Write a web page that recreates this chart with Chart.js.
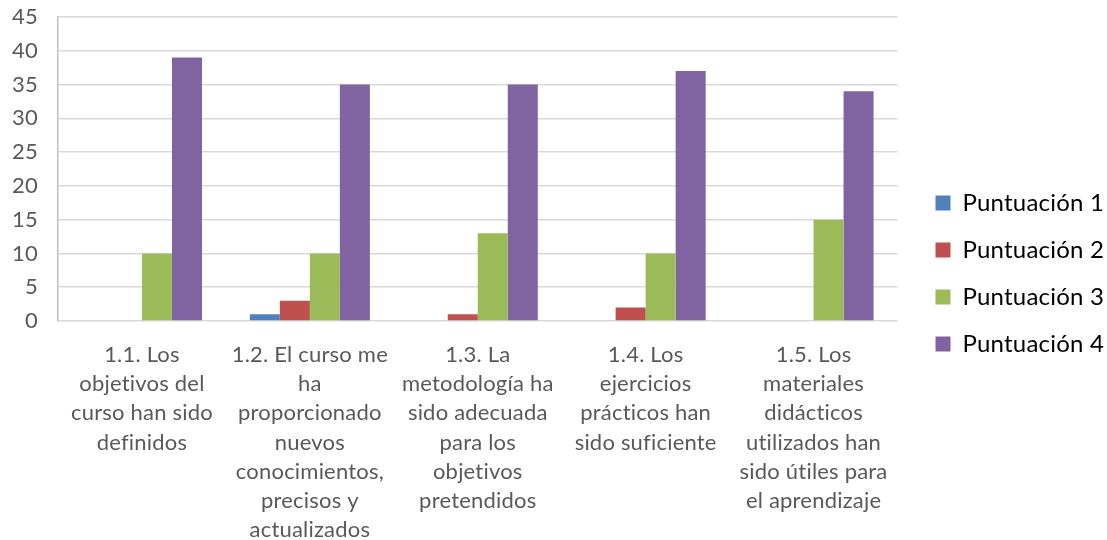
<!DOCTYPE html>
<html>
<head>
<meta charset="utf-8">
<script src="https://cdn.jsdelivr.net/npm/chart.js@4"></script>
<style>
  html, body { margin: 0; padding: 0; background: #fff; }
  #wrap { width: 1107px; height: 540px; }
</style>
</head>
<body>
<div id="wrap"><canvas id="grafico"></canvas></div>
<script>
const categorias = [
  ['1.1. Los', 'objetivos del', 'curso han sido', 'definidos'],
  ['1.2. El curso me', 'ha', 'proporcionado', 'nuevos', 'conocimientos,', 'precisos y', 'actualizados'],
  ['1.3. La', 'metodología ha', 'sido adecuada', 'para los', 'objetivos', 'pretendidos'],
  ['1.4. Los', 'ejercicios', 'prácticos han', 'sido suficiente'],
  ['1.5. Los', 'materiales', 'didácticos', 'utilizados han', 'sido útiles para', 'el aprendizaje']
];
const series = ['Puntuación 1', 'Puntuación 2', 'Puntuación 3', 'Puntuación 4'];
const punt1 = [0, 1, 0, 0, 0];
const punt2 = [0, 3, 1, 2, 0];
const punt3 = [10, 10, 13, 10, 15];
const punt4 = [39, 35, 35, 37, 34];
const colores = ['#4F81BD', '#C0504D', '#9BBB59', '#8064A2'];

// sin ligaduras (ti, fi) en Lato
const sinLigaduras = {
  id: 'sinLigaduras',
  beforeUpdate(chart) { chart.ctx.letterSpacing = '0.2px'; },
  beforeDraw(chart) { chart.ctx.letterSpacing = '0.2px'; }
};

// la leyenda va centrada en la altura total, no en el area del grafico
const moverLeyenda = {
  id: 'moverLeyenda',
  afterLayout(chart) {
    const l = chart.legend;
    const dy = 273.5 - (l.top + l.bottom) / 2;
    l.top += dy; l.bottom += dy;
    l.left += 15; l.right += 15;
  }
};

const ctx = document.getElementById('grafico');
new Chart(ctx, {
  type: 'bar',
  data: {
    labels: categorias,
    datasets: [punt1, punt2, punt3, punt4].map((d, i) => ({
      label: series[i],
      data: d,
      backgroundColor: colores[i],
      borderWidth: 0,
      categoryPercentage: 0.715,
      barPercentage: 1
    }))
  },
  options: {
    responsive: true,
    maintainAspectRatio: false,
    animation: false,
    layout: { padding: { left: 8, right: 8, top: 0, bottom: 0 } },
    plugins: {
      tooltip: { enabled: false },
      legend: {
        position: 'right',
        labels: {
          font: { family: 'Lato', size: 24 },
          color: '#000',
          boxWidth: 15,
          boxHeight: 15,
          padding: 23
        }
      }
    },
    scales: {
      x: {
        grid: { display: false, drawTicks: false },
        border: { display: false },
        afterFit(s) { s.height = 219; },
        ticks: {
          color: '#595959',
          font: { family: 'Lato', size: 22, lineHeight: 1.33 },
          padding: 19,
          maxRotation: 0,
          autoSkip: false
        }
      },
      y: {
        min: 0,
        max: 45,
        afterFit(s) { s.width = 50; s.paddingTop = 17; s.paddingBottom = 0; },
        ticks: {
          stepSize: 5,
          color: '#595959',
          font: { family: 'Lato', size: 22 },
          padding: 20
        },
        grid: { color: '#d9d9d9', lineWidth: 1.5, drawTicks: false },
        border: { color: '#bfbfbf', width: 1.5 }
      }
    }
  },
  plugins: [sinLigaduras, moverLeyenda]
});
</script>
</body>
</html>
